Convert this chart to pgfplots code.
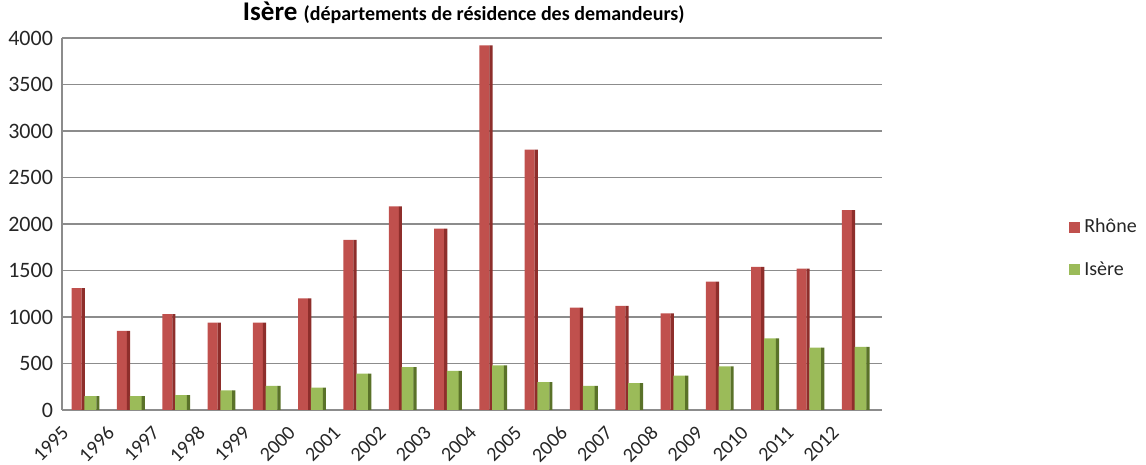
\documentclass[border=0pt]{standalone}
\usepackage{pgfplots}
\usepackage{pgfplotstable}
\pgfplotsset{compat=1.18}
\usepackage{fontspec}
\setmainfont{Carlito}
\usetikzlibrary{calc}
\definecolor{rhone}{HTML}{C0504D}
\definecolor{rhoneD}{HTML}{8E2E2B}
\definecolor{isere}{HTML}{9BBB59}
\definecolor{isereD}{HTML}{5A7229}
\definecolor{gridc}{HTML}{8C8C8C}
\pgfplotstableread{
x year rhone isere
0 1995 1310 150
1 1996 850 150
2 1997 1030 160
3 1998 940 210
4 1999 940 260
5 2000 1200 240
6 2001 1830 390
7 2002 2190 460
8 2003 1950 420
9 2004 3920 480
10 2005 2800 300
11 2006 1100 260
12 2007 1120 290
13 2008 1040 370
14 2009 1380 470
15 2010 1540 770
16 2011 1520 670
17 2012 2150 680
}\data
\begin{document}
\begin{tikzpicture}
\begin{axis}[
  name=ax,
  scale only axis,
  width=410pt, height=186pt,
  ybar,
  ymin=0, ymax=4000,
  xmin=-0.5, xmax=17.6,
  ytick={0,500,...,4000},
  xtick={0,...,17},
  xticklabels={1995,1996,1997,1998,1999,2000,2001,2002,2003,2004,2005,2006,2007,2008,2009,2010,2011,2012},
  x tick label style={xshift=-12pt, yshift=-6.5pt, rotate=45, anchor=north east, font=\fontsize{10}{12}\selectfont, inner sep=0.5pt, color=black!85},
  y tick label style={font=\fontsize{11}{12}\selectfont, color=black!85, xshift=-1pt},
  /pgf/number format/assume math mode=true,
  /pgf/number format/1000 sep={},
  major tick length=0pt,
  ymajorgrids, grid style={gridc, line width=0.6pt},
  axis lines*=left,
  axis line style={gridc, line width=0.6pt},
  title={{\fontsize{13.5}{15}\selectfont\bfseries Isère }{\fontsize{10}{12}\selectfont\bfseries (départements de résidence des demandeurs)}},
  title style={at={(0.49,1)}, anchor=south, yshift=0pt, inner sep=1pt},
  legend style={at={(1.228,0.434)}, anchor=west, draw=none, fill=none, inner sep=0pt, font=\fontsize{10}{12}\selectfont, row sep=9pt, legend cell align=left, color=black!85},
  legend image code/.code={\fill[#1, draw=none] (0pt,-2.75pt) rectangle (5.5pt,2.75pt);},
]
\addplot[fill=rhone, draw=none, bar width=5pt, bar shift=-4pt] table[x=x, y=rhone] {\data};
\addplot[fill=rhoneD, draw=none, bar width=1.6pt, bar shift=-0.7pt, forget plot] table[x=x, y=rhone] {\data};
\addplot[fill=isere, draw=none, bar width=6pt, bar shift=2.9pt] table[x=x, y=isere] {\data};
\addplot[fill=isereD, draw=none, bar width=1.6pt, bar shift=6.6pt, forget plot] table[x=x, y=isere] {\data};
\legend{Rhône, Isère}
\end{axis}
\pgfresetboundingbox
\path[use as bounding box] ($(ax.south west)+(-31pt,-27.5pt)$) rectangle ($(ax.north east)+(132pt,19pt)$);
\end{tikzpicture}
\end{document}
